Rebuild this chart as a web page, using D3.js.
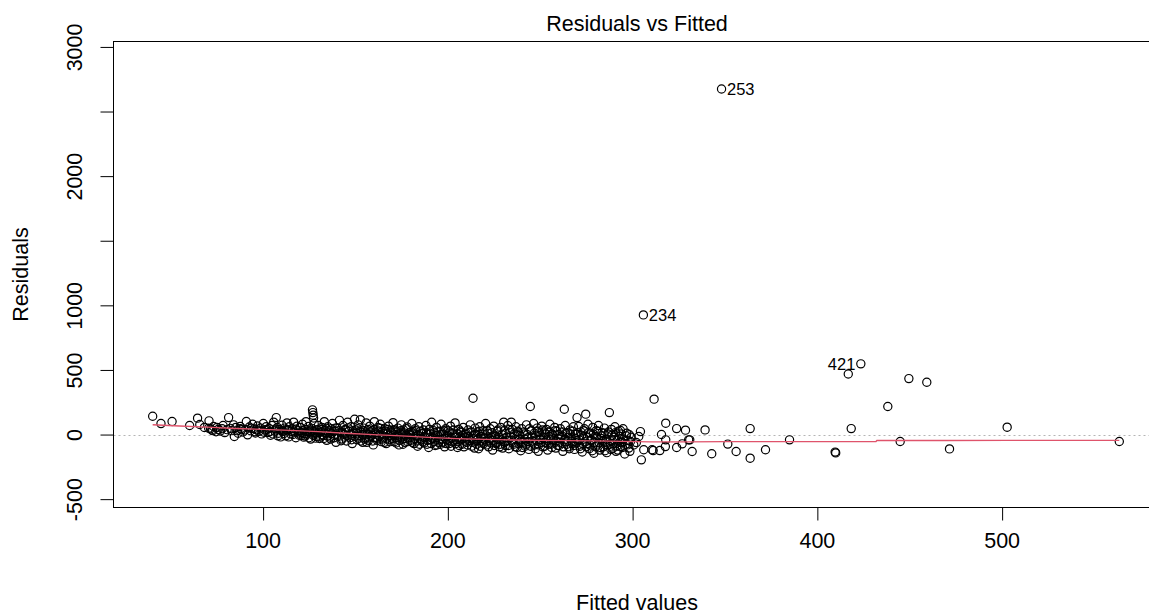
<!DOCTYPE html>
<html>
<head>
<meta charset="utf-8">
<script src="https://cdn.jsdelivr.net/npm/d3@7"></script>
<style>
  html, body { margin: 0; padding: 0; background: #fff; }
  svg { display: block; }
  text { font-family: "Liberation Sans", Arial, sans-serif; fill: #000; }
</style>
</head>
<body>
<svg id="chart" width="1149" height="615"></svg>
<script>
// Residuals against fitted values of a linear model: [fitted, residual]
const observations = [
  [40.5,142],[45,85],[51,101],[60.5,70],
  [64.8,127],[66,78],[68.5,55],
  [71,106],[70.8,49],[72.5,35],[73.5,62],[74.8,22],[76,40],[77.2,28],[78.6,70],[79.5,15],
  [81.6,131],[82.5,48],[83.3,30],[84.3,75],[84.7,-15],[85.5,55],[86.8,10],[87.9,62],[88.6,38],[89.4,20],
  [91.2,101],[91.9,-2],[92.8,58],[93.5,30],[94.6,80],[95.3,45],[96.1,12],[97.2,66],[98,25],[98.9,50],[99.5,5],
  [100.4,85],[101.2,35],[101.9,60],[102.8,15],[103.5,48],[104.3,-5],[105.1,70],[106,96],[106.7,28],[107.4,131],[108,55],[108.6,10],[109.3,40],[109.8,-18],
  [110.5,72],[111.1,25],[111.9,50],[112.6,-10],[113.2,90],[113.9,35],[114.5,60],[115.2,5],[115.9,45],[116.8,96],[117.3,20],[118,-25],[118.6,65],[119.2,30],[119.8,-5],
  [120.4,55],[121,15],[121.6,80],[122.3,-20],[122.9,40],[123.5,100],[124.1,5],[124.8,62],[125.4,25],[126,-35],[126.7,48],[127,191],[127.2,170],[127.4,150],[127.6,128],[127.9,85],[128.4,10],[129,-15],[129.5,38],
  [130.2,70],[130.8,-30],[131.5,22],[132.1,55],[132.8,-8],[133.4,100],[134,30],[134.7,-45],[135.3,60],[135.9,12],[136.6,-20],[137.2,45],[137.8,85],[138.5,-5],[139.1,28],[139.7,-60],
  [140.3,52],[140.9,-15],[141.6,110],[142.2,18],[142.8,-35],[143.5,70],[144.1,0],[144.7,40],[145.4,-50],[146,95],[146.6,25],[147.3,-25],[147.9,60],[148.5,-70],[149.2,10],[149.8,118],
  [150.4,35],[151,-40],[151.7,75],[152.3,-10],[152.9,115],[153.6,20],[154.2,-60],[154.8,50],[155.5,-25],[156.1,90],[156.7,5],[157.4,-45],[158,65],[158.6,-15],[159.3,30],[159.9,-80],
  [160.5,100],[161.2,15],[161.8,-30],[162.4,55],[163.1,-5],[163.7,80],[164.3,-55],[165,25],[165.6,-20],[166.2,45],[166.9,-70],[167.5,10],[168.1,65],[168.8,-40],[169.4,30],[170,-10],
  [170.6,92],[171.3,-55],[171.9,20],[172.5,-25],[173.2,50],[173.8,-80],[174.4,5],[175.1,75],[175.7,-35],[176.3,35],[177,-60],[177.6,-5],[178.2,58],[178.9,-20],[179.5,15],
  [180.1,-45],[180.8,85],[181.4,25],[182,-70],[182.7,45],[183.3,-10],[183.9,-90],[184.6,60],[185.2,-30],[185.8,10],[186.5,-55],[187.1,35],[187.7,-15],[188.4,70],[189,-75],[189.6,0],
  [190.3,40],[190.9,-40],[191.5,95],[192.2,-20],[192.8,15],[193.4,-85],[194.1,55],[194.7,-5],[195.3,-60],[196,25],[196.6,80],[197.2,-35],[197.9,5],[198.5,-95],[199.1,45],[199.8,-15],
  [200.4,30],[201,-70],[201.7,65],[202.3,-25],[202.9,10],[203.6,-50],[204.2,90],[204.8,-10],[205.5,-100],[206.1,40],[206.7,-40],[207.4,15],[208,-75],[208.6,55],[209.3,-20],[209.9,0],
  [210.5,-60],[211.2,35],[211.8,-30],[212.4,75],[213.1,-90],[213.9,281],[214.3,-5],[215,50],[215.6,-45],[216.2,20],[216.9,-110],[217.5,60],[218.1,-15],[218.8,-65],[219.4,30],[220,-35],
  [220.7,85],[221.3,-80],[221.9,10],[222.6,-50],[223.2,45],[223.8,-20],[224.5,-120],[225.1,65],[225.7,-5],[226.4,-70],[227,25],[227.6,-40],[228.3,-95],[228.9,55],[229.5,0],[230.2,-55],
  [230.5,96],[230.8,30],[231.4,-85],[232,-20],[232.7,70],[233.3,-110],[233.9,15],[234.6,96],[234.8,-45],[235.2,40],[235.9,-75],[236.5,-10],[237.1,60],[237.8,-100],[238.4,20],[239,-35],[239.7,-125],
  [240.3,45],[240.9,-60],[241.6,5],[242.2,-90],[242.8,75],[243.5,-25],[244.1,-115],[244.9,217],[245.4,30],[246,-50],[246.7,85],[247.3,-80],[247.9,-10],[248.6,50],[249.2,-130],[249.8,15],
  [250.5,-40],[251.1,65],[251.7,-95],[252.4,20],[253,-60],[253.6,40],[254.3,-120],[254.9,-15],[255.5,80],[256.2,-75],[256.8,5],[257.4,-45],[258.1,55],[258.7,-105],[259.3,25],[260,-30],
  [260.6,-85],[261.2,45],[261.9,-10],[262.5,-130],[263.3,196],[263.8,70],[264.4,-55],[265,15],[265.7,-95],[266.3,35],[266.9,-25],[267.6,-70],[268.2,60],[268.8,-115],[269.5,0],[270.2,131],[270.2,-45],
  [271.1,62],[271.7,-90],[272.3,20],[273,-135],[273.6,-20],[274.2,45],[274.9,158],[275.5,-70],[276.1,80],[276.8,-110],[277.4,10],[278,-40],[278.7,55],[279.3,-145],[279.9,-15],
  [280.6,30],[281.2,-80],[281.8,70],[282.5,-120],[283.1,-30],[283.7,15],[284.4,-95],[285,50],[285.6,-55],[286.3,-140],[286.9,5],[287.7,170],[288.2,-75],[288.8,40],[289.4,-110],
  [290.1,-20],[290.7,60],[291.3,-130],[292,-45],[292.6,25],[293.7,31],[293.7,-93],[294.5,-60],[295.1,45],[296,-150],[296.8,-10],[297.5,-80],[298.2,-105],[298.5,-2],[299.1,-54],
  [300.9,-80],[302.3,-62],[303.6,-15],[304.5,23],[305,-196],[306.1,926],[306.3,-118],[310.8,-118],[311.4,-124],[311.9,274],[315,-124],[315.9,0],[318,-93],[318.2,88],[318.2,-41],
  [324.1,46],[324.1,-100],[327.1,-72],[328.9,34],[330.6,-41],[331.2,-41],[332.5,-131],[339.5,36],[343.1,-149],[348.4,2674],[351.8,-74],[356.3,-131],
  [363.9,46],[363.9,-183],[372.2,-118],[385.2,-41],[409.9,-136],[410.2,-142],[417,469],[418.6,46],[423.8,547],
  [438.4,217],[445.1,-54],[449.8,433],[459.5,405],[471.8,-111],[503,57],[563.7,-54]
];

// Further observations packed along the centre of the band
const bandObservations = [
  [71.8,45],[73,30],[75.3,55],[78.1,45],[80.8,38],[86.2,30],[88.1,45],[90.5,35],[93.9,48],[95.8,22],[96.7,38],
  [100.8,18],[102.3,40],[103.9,22],[105.6,5],[107.1,42],[108.3,-10],[110.1,30],[111.6,8],[112.9,38],[114.1,-18],[115.6,25],[116.4,0],[117.8,42],[119.5,12],
  [120.9,-8],[121.8,30],[122.6,8],[123.1,-12],[124.5,22],[125.1,-25],[125.9,12],[126.4,35],[127.3,-5],[128.1,20],[128.8,-28],[129.8,5],
  [130.5,15],[131.2,-18],[131.9,40],[132.4,-2],[133.1,-30],[133.9,12],[134.4,48],[135.1,-12],[136.2,30],[136.9,-35],[137.5,8],[138.2,22],[138.8,-25],[139.4,50],
  [140.6,-5],[141.3,30],[142.5,-48],[143.2,15],[144.4,-20],[145.1,35],[145.8,-8],[146.3,52],[147.6,5],[148.2,-40],[148.9,30],
  [150.1,-15],[150.8,10],[151.4,45],[152,-28],[152.6,25],[153.2,-50],[153.9,0],[154.5,30],[155.2,-35],[155.8,12],[156.4,-60],[157.1,40],[157.7,-20],[158.3,20],[159,-5],[159.6,-50],
  [160.2,38],[160.9,-22],[161.5,5],[162.1,-45],[162.8,28],[163.4,-15],[164,48],[164.7,-35],[165.3,8],[165.9,-60],[166.6,25],[167.2,-28],[167.8,40],[168.5,-8],[169.1,-55],[169.7,15],
  [170.3,-30],[171,38],[171.6,0],[172.2,-65],[172.9,22],[173.5,-12],[174.1,-45],[174.8,30],[175.4,-2],[176,-75],[176.7,12],[177.3,-30],[177.9,45],[178.6,-55],[179.2,0],[179.8,-25],
  [180.4,20],[181.1,-60],[181.7,5],[182.3,-30],[183,30],[183.6,-50],[184.2,-5],[184.9,-75],[185.5,25],[186.1,-40],[186.8,10],[187.4,-65],[188,-25],[188.7,15],[189.3,-45],[189.9,-100],
  [190.6,5],[191.2,-70],[191.8,-30],[192.5,30],[193.1,-55],[193.7,-10],[194.4,-80],[195,20],[195.6,-40],[196.3,-75],[196.9,0],[197.5,-60],[198.2,30],[198.8,-30],[199.4,-70],
  [200.1,-5],[200.7,-45],[201.3,20],[202,-90],[202.6,-55],[203.3,35],[203.9,-20],[204.5,-70],[205.2,5],[205.8,-55],[206.4,-85],[207.1,25],[207.7,-30],[208.3,-5],[209,-95],[209.6,-50],
  [210.2,10],[210.9,-80],[211.5,-15],[212.1,-45],[212.8,20],[213.4,-60],[214,-30],[214.7,-105],[215.3,0],[215.9,-75],[216.6,-35],[217.2,25],[217.8,-90],[218.5,-50],[219.1,5],[219.7,-70],
  [220.4,-20],[221,-55],[221.6,30],[222.3,-95],[222.9,-30],[223.5,-65],[224.2,15],[224.8,-45],[225.4,-85],[226.1,-15],[226.7,-60],[227.3,35],[228,-20],[228.6,-75],[229.2,-40],[229.9,-105],
  [231.1,-60],[231.7,10],[232.4,-45],[233,-85],[233.6,40],[234.3,-20],[235.5,-65],[236.2,5],[236.8,-95],[237.4,-40],[238.1,25],[238.7,-70],[239.3,-5],
  [240,-55],[240.6,-100],[241.3,20],[241.9,-35],[242.5,-75],[243.2,0],[243.8,-55],[244.4,45],[245.1,-90],[245.7,-20],[246.3,-65],[247,10],[247.6,-110],[248.2,-40],[248.9,25],[249.5,-80],
  [250.2,-10],[250.8,-60],[251.4,35],[252.1,-25],[252.7,-90],[253.3,5],[254,-45],[254.6,-75],[255.2,20],[255.9,-35],[256.5,-100],[257.1,-10],[257.8,-65],[258.4,30],[259,-50],[259.7,-85],
  [260.3,0],[260.9,-60],[261.6,-25],[262.2,20],[262.8,-95],[263.5,-40],[264.1,10],[264.7,-75],[265.4,-20],[266,-110],[266.6,5],[267.3,-50],[267.9,25],[268.5,-85],[269.2,-30],[269.8,-65],
  [270.5,15],[271.4,-40],[272,-110],[272.6,-5],[273.3,-70],[273.9,30],[274.6,-55],[275.2,-95],[275.8,-20],[276.5,15],[277.1,-80],[277.7,-45],[278.4,-125],[279,5],[279.6,-60],
  [280.3,-95],[280.9,-20],[281.5,25],[282.2,-65],[282.8,-100],[283.4,-10],[284.1,-50],[284.7,10],[285.3,-125],[286,-35],[286.6,-80],[287.2,20],[288,-45],[288.5,-115],[289.1,-5],[289.7,-70],
  [290.4,-40],[291,15],[291.7,-90],[292.3,-120],[293,-15],[293.3,-60],[294.1,5],[294.8,-100],[295.4,-35],[296.4,-75],[297.1,10],[297.8,-45],[298.8,-130],[299.5,-20]
];

// Points carrying an observation number
const labelled = [
  { id: "253", fitted: 348.4, resid: 2674, side: "right" },
  { id: "234", fitted: 306.1, resid: 926, side: "right" },
  { id: "421", fitted: 423.8, resid: 547, side: "left" }
];

// Scatterplot smoother through the residuals
const smoothFitted = [40.5, 55, 70, 85, 100, 115, 130, 145, 160, 175, 190, 205, 220, 235, 250, 265, 280, 295, 310, 330, 350, 380, 410, 432, 432.5, 470, 503, 563.7];
const smoothResid  = [76, 66, 57, 47, 40, 33, 22, 10, 0, -10, -22, -31, -37, -42, -45, -47, -49, -53, -57, -56, -55, -54, -54, -54, -46, -46, -45, -45];

const xTicks = [100, 200, 300, 400, 500];
const yTicks = [-500, 0, 500, 1000, 1500, 2000, 2500, 3000];
const yTickLabels = ["-500", "0", "500", "1000", "", "2000", "", "3000"];

const svg = d3.select("#chart");

const plot = { left: 113.5, top: 41.5, right: 1160.5, bottom: 507.5 };

const x = d3.scaleLinear().domain([19.3, 586]).range([plot.left, plot.right]);
const y = d3.scaleLinear().domain([-564.6, 3042]).range([plot.bottom, plot.top]);

svg.append("defs").append("clipPath").attr("id", "plotArea")
  .append("rect")
  .attr("x", plot.left).attr("y", plot.top)
  .attr("width", plot.right - plot.left).attr("height", plot.bottom - plot.top);

const inner = svg.append("g").attr("clip-path", "url(#plotArea)");

// Zero reference line
inner.append("line")
  .attr("x1", plot.left).attr("x2", plot.right)
  .attr("y1", Math.round(y(0)) + 0.5).attr("y2", Math.round(y(0)) + 0.5)
  .attr("stroke", "#b5b5b5")
  .attr("stroke-width", 1)
  .attr("stroke-dasharray", "2,3");

// Observations
inner.append("g").selectAll("circle")
  .data(observations.concat(bandObservations))
  .join("circle")
  .attr("cx", d => x(d[0]))
  .attr("cy", d => y(d[1]))
  .attr("r", 4.1)
  .attr("fill", "none")
  .attr("stroke", "#000")
  .attr("stroke-width", 1.2);

// Smoother
const smooth = smoothFitted.map((f, i) => [f, smoothResid[i]]);
inner.append("path")
  .datum(smooth)
  .attr("fill", "none")
  .attr("stroke", "#DF536B")
  .attr("stroke-width", 1.3)
  .attr("d", d3.line().x(d => x(d[0])).y(d => y(d[1])));

// Observation numbers
svg.append("g").selectAll("text")
  .data(labelled)
  .join("text")
  .attr("x", d => x(d.fitted) + (d.side === "right" ? 5.5 : -5.5))
  .attr("y", d => y(d.resid))
  .attr("dy", "0.35em")
  .attr("text-anchor", d => d.side === "right" ? "start" : "end")
  .style("font-size", "16.5px")
  .text(d => d.id);

// Frame
svg.append("rect")
  .attr("x", plot.left).attr("y", plot.top)
  .attr("width", plot.right - plot.left).attr("height", plot.bottom - plot.top)
  .attr("fill", "none")
  .attr("stroke", "#000")
  .attr("stroke-width", 1);

// X axis
const xAxis = svg.append("g")
  .attr("transform", `translate(0,${plot.bottom})`)
  .call(d3.axisBottom(x).tickValues(xTicks).tickSize(13).tickFormat(d3.format("d")));
xAxis.select(".domain").remove();
xAxis.selectAll(".tick line").attr("stroke", "#000").attr("transform", "translate(0.5,0)");
xAxis.selectAll(".tick text")
  .style("font-size", "21.5px")
  .attr("font-family", null)
  .attr("dy", null)
  .attr("y", 40);

// Y axis
const yAxis = svg.append("g")
  .attr("transform", `translate(${plot.left},0)`)
  .call(d3.axisLeft(y).tickValues(yTicks).tickSize(13)
    .tickFormat((d, i) => yTickLabels[i]));
yAxis.select(".domain").remove();
yAxis.selectAll(".tick line").attr("stroke", "#000");
yAxis.selectAll(".tick text")
  .style("font-size", "21.5px")
  .attr("font-family", null)
  .attr("x", null).attr("dy", null)
  .attr("text-anchor", "middle")
  .attr("transform", "translate(-32,0) rotate(-90)");

// Title and axis titles
svg.append("text")
  .attr("x", (plot.left + plot.right) / 2)
  .attr("y", 31)
  .attr("text-anchor", "middle")
  .style("font-size", "21.5px")
  .text("Residuals vs Fitted");

svg.append("text")
  .attr("x", (plot.left + plot.right) / 2)
  .attr("y", 610)
  .attr("text-anchor", "middle")
  .style("font-size", "21.5px")
  .text("Fitted values");

svg.append("text")
  .attr("transform", `translate(28,${(plot.top + plot.bottom) / 2}) rotate(-90)`)
  .attr("text-anchor", "middle")
  .style("font-size", "21.5px")
  .text("Residuals");
</script>
</body>
</html>
